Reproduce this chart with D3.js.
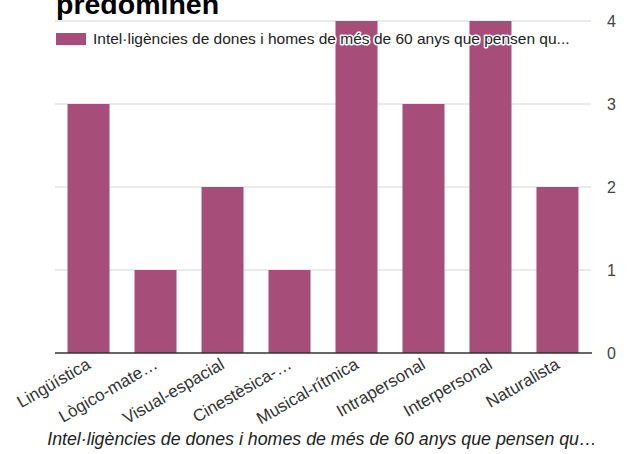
<!DOCTYPE html>
<html>
  <head>
    <meta charset="utf-8">
    <title>Intel·ligències</title>
    <script src="https://d3js.org/d3.v7.min.js"></script>
    <style>
      body { margin: 0; background: #fff; }
      svg { display: block; font-family: "Liberation Sans", Arial, sans-serif; }
    </style>
  </head>
  <body>
    <div id="chart"></div>
    <script>
      // data
      var categories = ["Lingüística", "Lògico-mate…", "Visual-espacial", "Cinestèsica-…",
        "Musical-rítmica", "Intrapersonal", "Interpersonal", "Naturalista"];
      var values = [3, 1, 2, 1, 4, 3, 4, 2];
      var yTicks = [0, 1, 2, 3, 4];
      var seriesName = "Intel·ligències de dones i homes de més de 60 anys que pensen qu...";
      var titleText = "predominen";
      var axisTitle = "Intel·ligències de dones i homes de més de 60 anys que pensen qu…";

      var width = 633, height = 454;
      var plot = { left: 55, right: 591, top: 21, bottom: 353 };
      var barColour = "#a64d79";

      var svg = d3.select("#chart").append("svg")
        .attr("width", width)
        .attr("height", height);

      var x = d3.scaleBand()
        .domain(categories)
        .range([plot.left, plot.right])
        .paddingInner(0.373)
        .paddingOuter(0.187);

      var y = d3.scaleLinear()
        .domain([0, 4])
        .range([plot.bottom, plot.top]);

      // title (cut at the top, as in the screenshot)
      svg.append("text")
        .attr("x", 56)
        .attr("y", 14)
        .attr("font-size", 28.5)
        .attr("font-weight", "bold")
        .attr("fill", "#000")
        .text(titleText);

      // gridlines
      svg.append("g")
        .selectAll("line")
        .data(yTicks.filter(function(d) { return d > 0; }))
        .join("line")
          .attr("x1", plot.left)
          .attr("x2", plot.right)
          .attr("y1", function(d) { return y(d); })
          .attr("y2", function(d) { return y(d); })
          .attr("stroke", "#d6d6d6")
          .attr("stroke-width", 1);

      // bars
      svg.append("g")
        .selectAll("rect")
        .data(values)
        .join("rect")
          .attr("x", function(d, i) { return x(categories[i]); })
          .attr("width", x.bandwidth())
          .attr("y", function(d) { return y(d); })
          .attr("height", function(d) { return y(0) - y(d); })
          .attr("fill", barColour);

      // baseline
      svg.append("line")
        .attr("x1", plot.left)
        .attr("x2", plot.right + 1)
        .attr("y1", y(0))
        .attr("y2", y(0))
        .attr("stroke", "#333")
        .attr("stroke-width", 1.5);

      // right-hand tick labels
      svg.append("g")
        .selectAll("text")
        .data(yTicks)
        .join("text")
          .attr("x", 607)
          .attr("y", function(d) { return y(d); })
          .attr("dy", "0.35em")
          .attr("font-size", 16)
          .attr("fill", "#444")
          .text(function(d) { return d; });

      // slanted category labels
      svg.append("g")
        .selectAll("text")
        .data(categories)
        .join("text")
          .attr("transform", function(d) {
            return "translate(" + (x(d) + x.bandwidth() / 2 - 3) + "," + 357 + ") rotate(-30)";
          })
          .attr("text-anchor", "end")
          .attr("dy", "0.72em")
          .attr("font-size", 17)
          .attr("fill", "#333")
          .text(function(d) { return d; });

      // legend (drawn over the bars, with a white halo)
      var legend = svg.append("g");
      legend.append("rect")
        .attr("x", 56)
        .attr("y", 33)
        .attr("width", 30)
        .attr("height", 12)
        .attr("fill", barColour);
      legend.append("text")
        .attr("x", 93)
        .attr("y", 39)
        .attr("dy", "0.35em")
        .attr("font-size", 15.5)
        .attr("fill", "#222")
        .attr("stroke", "#fff")
        .attr("stroke-width", 3)
        .attr("stroke-linejoin", "round")
        .attr("paint-order", "stroke")
        .text(seriesName);

      // axis title
      svg.append("text")
        .attr("x", 322)
        .attr("y", 445)
        .attr("text-anchor", "middle")
        .attr("font-size", 17.8)
        .attr("font-style", "italic")
        .attr("fill", "#222")
        .text(axisTitle);
    </script>
  </body>
</html>
